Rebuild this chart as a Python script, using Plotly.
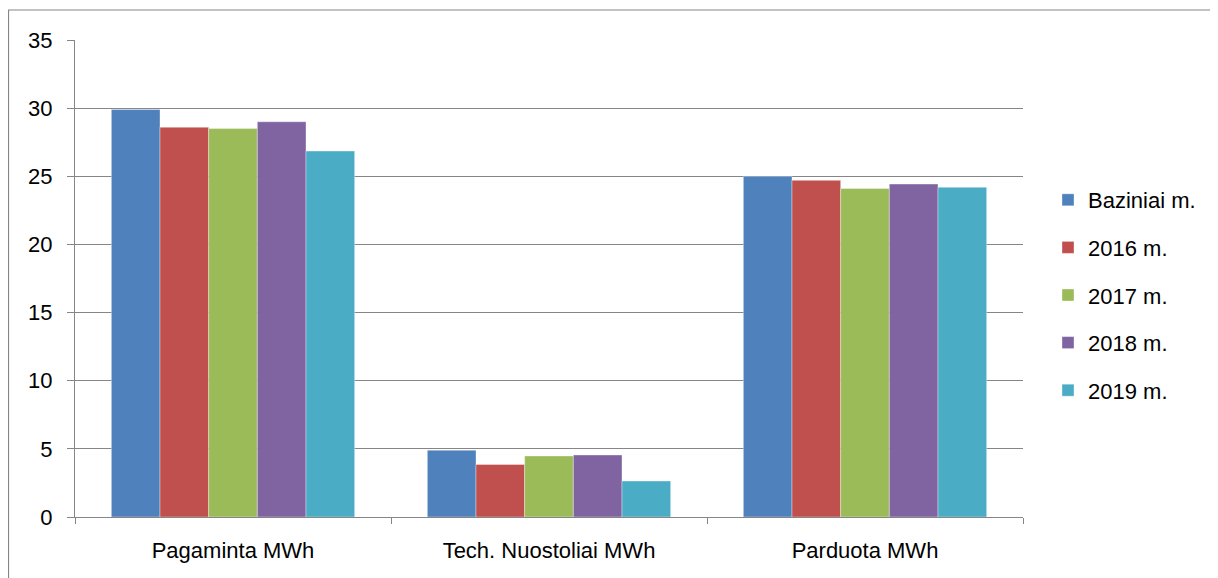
import plotly.graph_objects as go

categories = ["Pagaminta MWh", "Tech. Nuostoliai MWh", "Parduota MWh"]
series_names = ["Baziniai m.", "2016 m.", "2017 m.", "2018 m.", "2019 m."]
baziniai = [29.9, 4.9, 25.0]
y2016 = [28.6, 3.85, 24.7]
y2017 = [28.5, 4.48, 24.1]
y2018 = [29.0, 4.55, 24.43]
y2019 = [26.85, 2.64, 24.2]
colors = ["#4F81BD", "#C0504D", "#9BBB59", "#8064A2", "#4BACC6"]
y_ticks = [0, 5, 10, 15, 20, 25, 30, 35]

series_values = [baziniai, y2016, y2017, y2018, y2019]

fig = go.Figure()
for name, vals, col in zip(series_names, series_values, colors):
    fig.add_trace(go.Bar(
        x=categories, y=vals, name=name, legendgroup=name,
        marker=dict(color=col, line=dict(color="rgba(255,255,255,0.6)", width=0.6)),
    ))

OFF = 8  # page body margin
W, H = 1218 - OFF, 578 - OFF
L, R, T, B = 75 - OFF, 1023 - OFF, 40 - OFF, 517 - OFF
font = dict(family="Liberation Sans, Arial, sans-serif", size=22, color="#000000")

fig.update_layout(
    width=W, height=H,
    margin=dict(l=L, r=W - R, t=T, b=H - B, autoexpand=False),
    paper_bgcolor="white", plot_bgcolor="white",
    barmode="group", bargap=0.23, bargroupgap=0,
    font=font,
    showlegend=True,
    legend=dict(
        x=(1048 - OFF - L) / (R - L), xanchor="left",
        y=(B - (295 - OFF)) / (B - T), yanchor="middle",
        font=dict(family="Liberation Sans, Arial, sans-serif", size=22),
        tracegroupgap=16, itemwidth=30,
    ),
    xaxis=dict(
        tickson="boundaries", ticks="outside", ticklen=6, tickcolor="#868686",
        showline=True, linecolor="#868686", linewidth=1,
        showgrid=False, tickfont=font, ticklabelstandoff=14,
    ),
    yaxis=dict(
        range=[0, 35], tickvals=y_ticks, ticks="outside", ticklen=7, tickcolor="#868686",
        showline=True, linecolor="#868686", linewidth=1,
        showgrid=True, gridcolor="#868686", gridwidth=1, zeroline=False,
        tickfont=font, ticklabelstandoff=10,
    ),
)

# outer chart border
fig.add_shape(
    type="rect", xref="paper", yref="paper",
    x0=(0.5 - L) / (R - L), x1=(W + 30 - L) / (R - L),
    y0=(B - (H + 30)) / (B - T), y1=(B - (10 - OFF)) / (B - T),
    line=dict(color="#868686", width=1.2), fillcolor="rgba(0,0,0,0)", layer="below",
)

fig.write_html("out.html")
